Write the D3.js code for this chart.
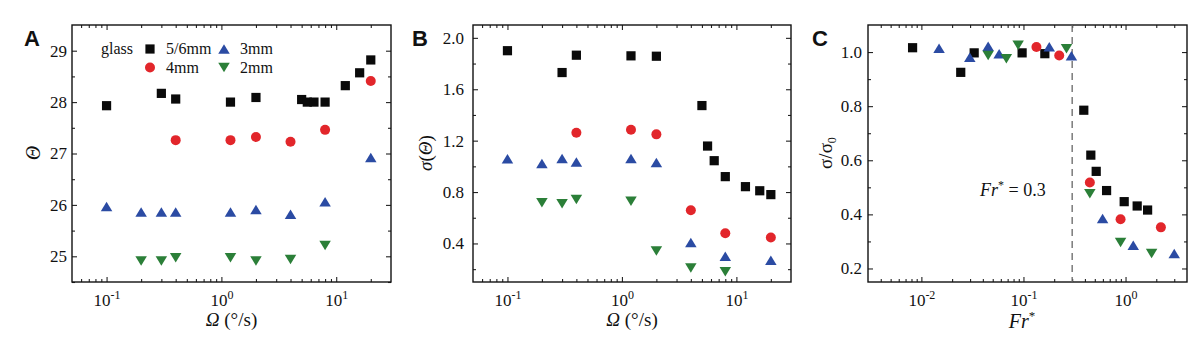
<!DOCTYPE html>
<html><head><meta charset="utf-8">
<script src="https://cdn.jsdelivr.net/npm/d3@7"></script>
<style>body{margin:0;background:#fff} svg text{font-family:'Liberation Serif','Times New Roman',serif}</style>
</head><body>
<svg id="c" width="1200" height="341"></svg>
<script>
// ---- Panel A & B data (x = rotation rate, deg/s) ----
const omegaSq   = [0.1, 0.3, 0.4, 1.2, 2, 5, 5.6, 6.4, 8, 12, 16, 20];
const thetaSq   = [27.93, 28.17, 28.06, 28.0, 28.09, 28.05, 28.0, 28.0, 28.0, 28.32, 28.57, 28.82];
const sigmaSq   = [1.90, 1.73, 1.865, 1.86, 1.857, 1.473, 1.158, 1.044, 0.92, 0.842, 0.81, 0.78];
const omegaCirc = [0.4, 1.2, 2, 4, 8, 20];
const thetaCirc = [27.26, 27.26, 27.32, 27.23, 27.46, 28.41];
const sigmaCirc = [1.262, 1.285, 1.249, 0.658, 0.48, 0.446];
const omegaUp   = [0.1, 0.2, 0.3, 0.4, 1.2, 2, 4, 8, 20];
const thetaUp   = [25.97, 25.86, 25.86, 25.86, 25.86, 25.91, 25.82, 26.06, 26.92];
const sigmaUp   = [1.06, 1.023, 1.062, 1.034, 1.062, 1.03, 0.408, 0.30, 0.27];
const omegaDown = [0.2, 0.3, 0.4, 1.2, 2, 4, 8];
const thetaDown = [24.91, 24.91, 24.97, 24.97, 24.91, 24.94, 25.21];
const sigmaDown = [0.716, 0.708, 0.742, 0.729, 0.342, 0.208, 0.18];
// ---- Panel C data (x = Fr*) ----
const frSq      = [0.0082, 0.0243, 0.0329, 0.097, 0.162, 0.39, 0.457, 0.516, 0.652, 0.97, 1.30, 1.645];
const ratioSq   = [1.016, 0.925, 0.997, 0.997, 0.994, 0.785, 0.619, 0.559, 0.488, 0.447, 0.431, 0.416];
const frCirc    = [0.134, 0.224, 0.447, 0.894, 2.22];
const ratioCirc = [1.019, 0.987, 0.518, 0.382, 0.352];
const frUp      = [0.0149, 0.0298, 0.0451, 0.0578, 0.179, 0.295, 0.596, 1.19, 3.0];
const ratioUp   = [1.014, 0.981, 1.021, 0.994, 1.02, 0.986, 0.385, 0.286, 0.255];
const frDown    = [0.0451, 0.068, 0.0887, 0.264, 0.447, 0.894, 1.8];
const ratioDown = [0.987, 0.975, 1.025, 1.012, 0.476, 0.296, 0.255];
const frCritical = 0.3;
// ---- tick labels ----
const ticksA = [25, 26, 27, 28, 29];
const ticksB = [0.4, 0.8, 1.2, 1.6, 2.0];
const ticksC = [0.2, 0.4, 0.6, 0.8, 1.0];
const expAB = [-1, 0, 1];
const expC = [-2, -1, 0];
const legendLabels = ["5/6mm", "4mm", "3mm", "2mm"];

const svg = d3.select("#c");
const serif = "'Liberation Serif','Times New Roman',serif";
const sans = "'Liberation Sans',Arial,sans-serif";
const col = {sq: "#0a0a0a", circ: "#e2262b", up: "#2b4ba3", down: "#2b7f38"};

function drawMarker(g, shape, cx, cy) {
  if (shape === "sq") {
    g.append("rect").attr("x", cx - 4.6).attr("y", cy - 4.6).attr("width", 9.2).attr("height", 9.2).attr("fill", col.sq);
  } else if (shape === "circ") {
    g.append("circle").attr("cx", cx).attr("cy", cy).attr("r", 5).attr("fill", col.circ);
  } else {
    const w = 11.5, h = 9.5;
    const p = shape === "up"
      ? `M${cx},${cy - h/2}L${cx + w/2},${cy + h/2}L${cx - w/2},${cy + h/2}Z`
      : `M${cx},${cy + h/2}L${cx + w/2},${cy - h/2}L${cx - w/2},${cy - h/2}Z`;
    g.append("path").attr("d", p).attr("fill", col[shape]);
  }
}

function logMinor(domain) {
  const out = [];
  const a = Math.floor(Math.log10(domain[0])), b = Math.ceil(Math.log10(domain[1]));
  for (let e = a; e <= b; e++) for (let k = 2; k <= 9; k++) {
    const v = k * Math.pow(10, e);
    if (v > domain[0] && v < domain[1]) out.push(v);
  }
  return out;
}

function txt(sel, size) {
  return sel.style("font-family", serif).style("font-size", size + "px").attr("fill", "#111");
}

function panel(cfg) {
  const x = d3.scaleLog().domain(cfg.xDomain).range([cfg.left, cfg.right]);
  const y = d3.scaleLinear().domain(cfg.yDomain).range([cfg.bottom, cfg.top]);
  const g = svg.append("g");
  const maj = cfg.exps.map(e => Math.pow(10, e));
  const minX = logMinor(cfg.xDomain);
  const axStyle = sel => {
    sel.select(".domain").remove();
    sel.attr("font-family", null).attr("font-size", null);
    sel.selectAll("line").attr("stroke", "#222").attr("stroke-width", 1.1);
  };
  // bottom axis
  const bx = g.append("g").attr("transform", `translate(0,${cfg.bottom})`)
    .call(d3.axisBottom(x).tickValues(maj).tickSize(-5).tickFormat(() => ""));
  axStyle(bx);
  bx.selectAll(".tick").each(function(d, i) {
    const t = txt(d3.select(this).append("text").attr("y", 24).attr("text-anchor", "middle"), 17);
    t.append("tspan").text("10");
    t.append("tspan").attr("dy", -7).style("font-size", "12px").text(String(cfg.exps[i]));
  });
  const bxm = g.append("g").attr("transform", `translate(0,${cfg.bottom})`)
    .call(d3.axisBottom(x).tickValues(minX).tickSize(-3).tickFormat(() => ""));
  axStyle(bxm);
  // top axis
  const tx = g.append("g").attr("transform", `translate(0,${cfg.top})`)
    .call(d3.axisTop(x).tickValues(maj).tickSize(-5).tickFormat(() => ""));
  axStyle(tx);
  const txm = g.append("g").attr("transform", `translate(0,${cfg.top})`)
    .call(d3.axisTop(x).tickValues(minX).tickSize(-3).tickFormat(() => ""));
  axStyle(txm);
  // left axis
  const ly = g.append("g").attr("transform", `translate(${cfg.left},0)`)
    .call(d3.axisLeft(y).tickValues(cfg.yTicks).tickSize(-5).tickPadding(cfg.yPad).tickFormat(cfg.yFmt));
  axStyle(ly);
  txt(ly.selectAll("text"), 17);
  const lym = g.append("g").attr("transform", `translate(${cfg.left},0)`)
    .call(d3.axisLeft(y).tickValues(cfg.yMinor).tickSize(-3).tickFormat(() => ""));
  axStyle(lym);
  const ry = g.append("g").attr("transform", `translate(${cfg.right},0)`)
    .call(d3.axisRight(y).tickValues(cfg.yTicks).tickSize(-5).tickFormat(() => ""));
  axStyle(ry);
  const rym = g.append("g").attr("transform", `translate(${cfg.right},0)`)
    .call(d3.axisRight(y).tickValues(cfg.yMinor).tickSize(-3).tickFormat(() => ""));
  axStyle(rym);
  // frame
  g.append("rect").attr("x", cfg.left).attr("y", cfg.top)
    .attr("width", cfg.right - cfg.left).attr("height", cfg.bottom - cfg.top)
    .attr("fill", "none").attr("stroke", "#111").attr("stroke-width", 1.4);
  if (cfg.extra) cfg.extra(g, x, y);
  // markers
  const mg = g.append("g");
  cfg.series.forEach(s => s.xs.forEach((xv, i) => drawMarker(mg, s.shape, x(xv), y(s.ys[i]))));
  // panel letter
  g.append("text").attr("x", cfg.letterX).attr("y", 46).style("font-family", sans)
    .attr("font-weight", "bold").style("font-size", "22px").attr("fill", "#111").text(cfg.letter);
  cfg.xlabel(g, (cfg.left + cfg.right) / 2);
  cfg.ylabel(g);
  return {x, y, g};
}

const fmt1 = d => d.toFixed(1);
const xlabOmega = (g, cx) => {
  const t = txt(g.append("text").attr("x", cx).attr("y", 326).attr("text-anchor", "middle"), 19);
  t.append("tspan").attr("font-style", "italic").text("Ω");
  t.append("tspan").text(" (°/s)");
};

// Panel A
panel({
  left: 72, right: 391, top: 25, bottom: 282,
  xDomain: [0.05, 30], yDomain: [24.5, 29.5],
  exps: expAB, yTicks: ticksA, yMinor: [24.5, 25.5, 26.5, 27.5, 28.5], yFmt: d => String(d), yPad: 5,
  letter: "A", letterX: 24,
  series: [
    {xs: omegaSq, ys: thetaSq, shape: "sq"},
    {xs: omegaCirc, ys: thetaCirc, shape: "circ"},
    {xs: omegaUp, ys: thetaUp, shape: "up"},
    {xs: omegaDown, ys: thetaDown, shape: "down"}
  ],
  xlabel: xlabOmega,
  ylabel: g => {
    txt(g.append("text").attr("transform", "translate(40,153) rotate(-90)").attr("text-anchor", "middle")
      .attr("font-style", "italic"), 20).text("Θ");
  },
  extra: g => {
    const lg = g.append("g");
    txt(lg.append("text").attr("x", 101).attr("y", 54), 16).text("glass");
    const pos = [[150, 49, "sq"], [150, 67.5, "circ"], [224, 49, "up"], [224, 67.5, "down"]];
    pos.forEach((p, i) => {
      drawMarker(lg, p[2], p[0], p[1]);
      txt(lg.append("text").attr("x", p[0] + 16).attr("y", p[1] + 5), 16).text(legendLabels[i]);
    });
  }
});

// Panel B
panel({
  left: 473, right: 791, top: 25, bottom: 282,
  xDomain: [0.05, 30], yDomain: [0.1, 2.1],
  exps: expAB, yTicks: ticksB, yMinor: [0.2, 0.6, 1.0, 1.4, 1.8], yFmt: fmt1, yPad: 9,
  letter: "B", letterX: 412,
  series: [
    {xs: omegaSq, ys: sigmaSq, shape: "sq"},
    {xs: omegaCirc, ys: sigmaCirc, shape: "circ"},
    {xs: omegaUp, ys: sigmaUp, shape: "up"},
    {xs: omegaDown, ys: sigmaDown, shape: "down"}
  ],
  xlabel: xlabOmega,
  ylabel: g => {
    const t = txt(g.append("text").attr("transform", "translate(432,153) rotate(-90)").attr("text-anchor", "middle"), 19);
    t.append("tspan").attr("font-style", "italic").text("σ");
    t.append("tspan").text("(");
    t.append("tspan").attr("font-style", "italic").text("Θ");
    t.append("tspan").text(")");
  }
});

// Panel C
panel({
  left: 868, right: 1187, top: 25, bottom: 282,
  xDomain: [0.003, 4], yDomain: [0.15, 1.1],
  exps: expC, yTicks: ticksC, yMinor: [0.3, 0.5, 0.7, 0.9], yFmt: fmt1, yPad: 6,
  letter: "C", letterX: 812,
  series: [
    {xs: frSq, ys: ratioSq, shape: "sq"},
    {xs: frCirc, ys: ratioCirc, shape: "circ"},
    {xs: frUp, ys: ratioUp, shape: "up"},
    {xs: frDown, ys: ratioDown, shape: "down"}
  ],
  xlabel: g => {
    const t = txt(g.append("text").attr("x", 1022).attr("y", 328).attr("text-anchor", "middle"), 20);
    t.append("tspan").attr("font-style", "italic").text("Fr");
    t.append("tspan").attr("dy", -8).style("font-size", "13px").text("*");
  },
  ylabel: g => {
    const t = txt(g.append("text").attr("transform", "translate(832,153) rotate(-90)").attr("text-anchor", "middle"), 19);
    t.append("tspan").text("σ/σ");
    t.append("tspan").attr("dy", 4).style("font-size", "12px").text("0");
  },
  extra: (g, x, y) => {
    g.append("line").attr("x1", x(frCritical)).attr("x2", x(frCritical))
      .attr("y1", y(1.1)).attr("y2", y(0.15))
      .attr("stroke", "#666").attr("stroke-width", 1.3).attr("stroke-dasharray", "7,5");
    const t = txt(g.append("text").attr("x", 980).attr("y", 196), 18);
    t.append("tspan").attr("font-style", "italic").text("Fr");
    t.append("tspan").attr("dy", -7).style("font-size", "12px").text("*");
    t.append("tspan").attr("dy", 7).text(" = 0.3");
  }
});
</script>
</body></html>
